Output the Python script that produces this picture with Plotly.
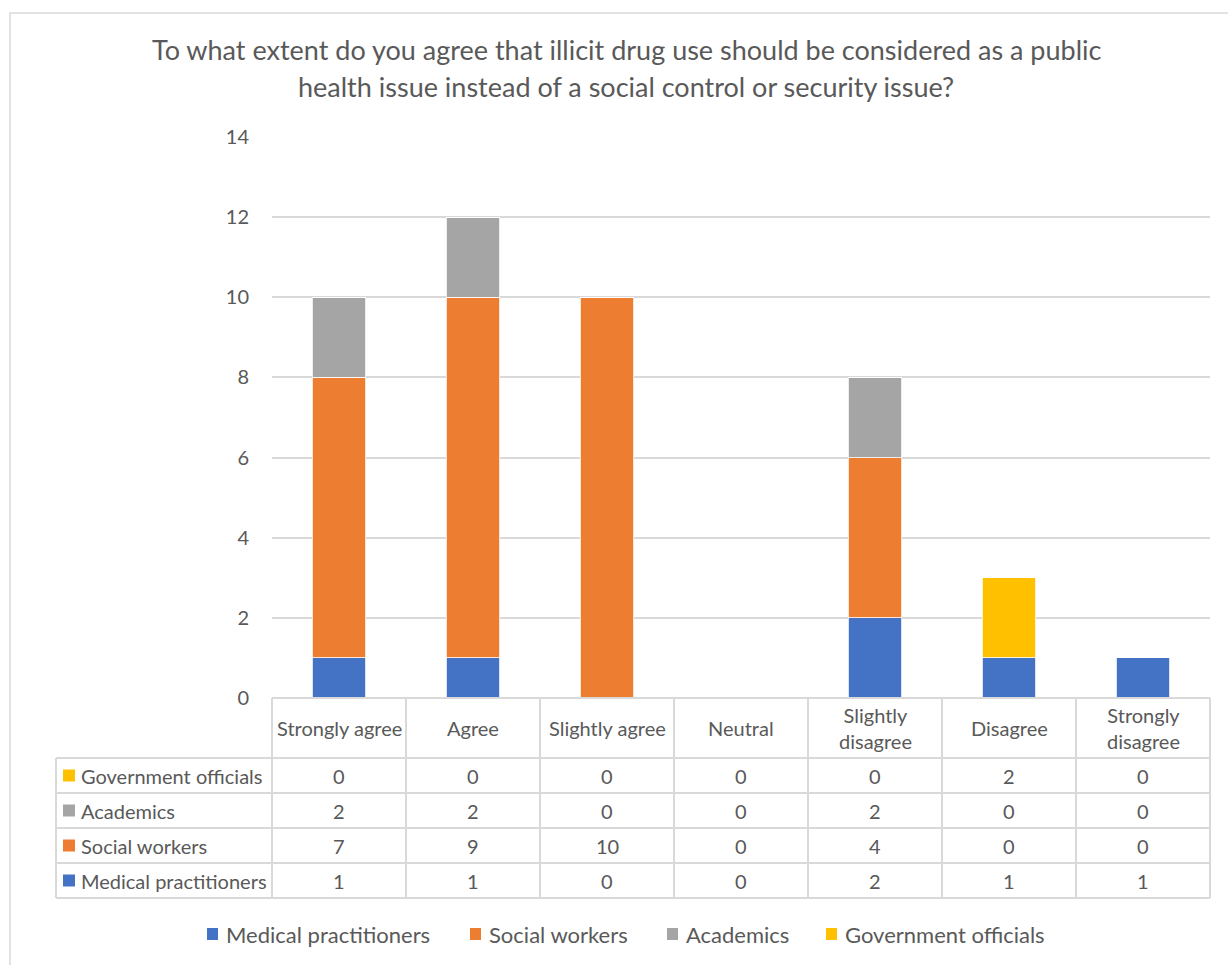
import plotly.graph_objects as go

W, H = 1228, 965

categories = ["Strongly agree", "Agree", "Slightly agree", "Neutral",
              "Slightly disagree", "Disagree", "Strongly disagree"]
header_labels = ["Strongly agree", "Agree", "Slightly agree", "Neutral",
                 "Slightly<br>disagree", "Disagree", "Strongly<br>disagree"]
series_names = ["Medical practitioners", "Social workers", "Academics", "Government officials"]
medical = [1, 1, 0, 0, 2, 1, 1]
social = [7, 9, 10, 0, 4, 0, 0]
academics = [2, 2, 0, 0, 2, 0, 0]
government = [0, 0, 0, 0, 0, 2, 0]
colors = ["#4472C4", "#ED7D31", "#A5A5A5", "#FFC000"]
y_ticks = [0, 2, 4, 6, 8, 10, 12, 14]
title_lines = ["To what extent do you agree that illicit drug use should be considered as a public",
               "health issue instead of a social control or security issue?"]

series_values = [medical, social, academics, government]

FONT = "Lato"
TXT = "#595959"
GRID = "#D9D9D9"

# pixel geometry
PX_L, PX_R = 272, 1210
PY_0, PY_14 = 698, 137
TABLE_L = 56
ROW_EDGES = [698, 758, 793, 828, 863, 898]
LEGEND_Y = 934
LEGEND_SQ_X = [207, 470, 667, 826]


def px(x):
    return x / W


def py(y):
    return 1 - y / H


fig = go.Figure()
for name, vals, c in zip(series_names, series_values, colors):
    fig.add_trace(go.Bar(
        x=categories, y=vals, name=name,
        marker=dict(color=c, line=dict(color="white", width=0.8)),
    ))

shapes = []
annotations = []

# outer chart border
shapes.append(dict(type="rect", xref="paper", yref="paper",
                   x0=px(10), x1=px(1240), y0=py(13), y1=py(980),
                   line=dict(color="#D9D9D9", width=1.5), fillcolor="rgba(0,0,0,0)", layer="below"))

# table horizontal lines
shapes.append(dict(type="line", xref="paper", yref="paper",
                   x0=px(PX_L), x1=px(PX_R), y0=py(ROW_EDGES[0]), y1=py(ROW_EDGES[0]),
                   line=dict(color=GRID, width=2)))
for ye in ROW_EDGES[1:]:
    shapes.append(dict(type="line", xref="paper", yref="paper",
                       x0=px(TABLE_L), x1=px(PX_R), y0=py(ye), y1=py(ye),
                       line=dict(color=GRID, width=2)))
# table vertical lines
n = len(categories)
col_w = (PX_R - PX_L) / n
for i in range(n + 1):
    xv = PX_L + i * col_w
    shapes.append(dict(type="line", xref="paper", yref="paper",
                       x0=px(xv), x1=px(xv), y0=py(ROW_EDGES[0]), y1=py(ROW_EDGES[-1]),
                       line=dict(color=GRID, width=2)))
shapes.append(dict(type="line", xref="paper", yref="paper",
                   x0=px(TABLE_L), x1=px(TABLE_L), y0=py(ROW_EDGES[1]), y1=py(ROW_EDGES[-1]),
                   line=dict(color=GRID, width=2)))

# header labels
for i, lab in enumerate(header_labels):
    annotations.append(dict(xref="paper", yref="paper",
                            x=px(PX_L + (i + 0.5) * col_w), y=py((ROW_EDGES[0] + ROW_EDGES[1]) / 2),
                            text=lab, showarrow=False, xanchor="center", yanchor="middle",
                            font=dict(family=FONT, size=20, color=TXT)))

# table rows: top to bottom is reverse series order
row_order = list(range(len(series_names)))[::-1]
for r, si in enumerate(row_order):
    y0, y1 = ROW_EDGES[r + 1], ROW_EDGES[r + 2]
    yc = (y0 + y1) / 2
    shapes.append(dict(type="rect", xref="paper", yref="paper",
                       x0=px(63), x1=px(75), y0=py(yc - 6), y1=py(yc + 6),
                       fillcolor=colors[si], line=dict(width=0)))
    annotations.append(dict(xref="paper", yref="paper", x=px(79), y=py(yc),
                            text=series_names[si], showarrow=False, xanchor="left", yanchor="middle",
                            font=dict(family=FONT, size=20, color=TXT)))
    for i, v in enumerate(series_values[si]):
        annotations.append(dict(xref="paper", yref="paper",
                                x=px(PX_L + (i + 0.5) * col_w), y=py(yc),
                                text=str(v), showarrow=False, xanchor="center", yanchor="middle",
                                font=dict(family=FONT, size=20, color=TXT)))

# legend (drawn manually for Excel-like spacing)
for name, c, sx in zip(series_names, colors, LEGEND_SQ_X):
    shapes.append(dict(type="rect", xref="paper", yref="paper",
                       x0=px(sx), x1=px(sx + 11), y0=py(LEGEND_Y - 6), y1=py(LEGEND_Y + 6),
                       fillcolor=c, line=dict(width=0)))
    annotations.append(dict(xref="paper", yref="paper", x=px(sx + 17), y=py(LEGEND_Y),
                            text=name, showarrow=False, xanchor="left", yanchor="middle",
                            font=dict(family=FONT, size=22, color=TXT)))

# title
for line, yy in zip(title_lines, [50, 87]):
    annotations.append(dict(xref="paper", yref="paper", x=px(626), y=py(yy),
                            text=line, showarrow=False, xanchor="center", yanchor="middle",
                            font=dict(family=FONT, size=27, color=TXT)))

fig.update_layout(
    width=W, height=H, autosize=False,
    margin=dict(l=0, r=0, t=0, b=0, pad=0, autoexpand=False),
    paper_bgcolor="white", plot_bgcolor="white",
    barmode="stack", bargap=0.6,
    showlegend=False,
    xaxis=dict(domain=[px(PX_L), px(PX_R)], showticklabels=False, showgrid=False,
               zeroline=False, showline=False, ticks="", automargin=False),
    yaxis=dict(domain=[py(PY_0), py(PY_14)], range=[0, 14], tickvals=y_ticks,
               showgrid=True, gridcolor=GRID, gridwidth=1.5, zeroline=False, showline=False,
               ticks="", ticklabelstandoff=22, automargin=False,
               tickfont=dict(family=FONT, size=20, color=TXT)),
    shapes=shapes, annotations=annotations,
)

fig.write_html("out.html",
               post_script="document.body.style.margin='0';document.body.style.overflow='hidden';")
